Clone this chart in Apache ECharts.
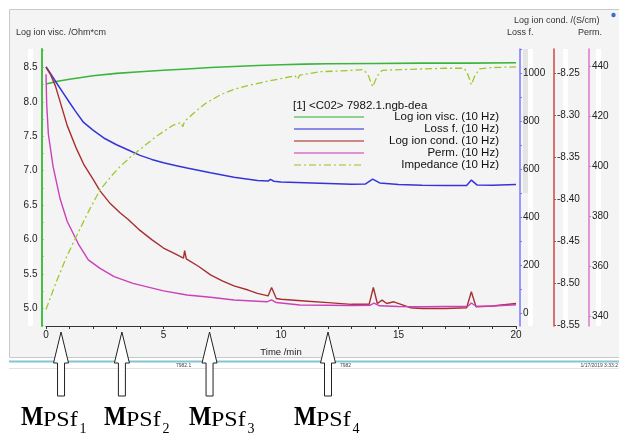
<!DOCTYPE html>
<html><head><meta charset="utf-8">
<script src="https://cdn.jsdelivr.net/npm/echarts@6/dist/echarts.min.js"></script>
<style>html,body{margin:0;padding:0;background:#fff}#c{width:619px;height:441px}</style>
</head><body><div id="c"></div>
<script>
// ---- data (time in min, value) ----
const logIonVisc = [[0,8.26],[0.5,8.30],[1,8.33],[2,8.38],[3,8.415],[4,8.44],[5,8.46],[6,8.48],[7,8.50],[8,8.515],[9,8.53],[10,8.54],[11,8.55],[12,8.555],[14,8.56],[16,8.565],[18,8.565],[20,8.57]];
const lossFactor = [[0,1027],[0.25,990],[0.5,952],[0.75,915],[1,878],[1.25,842],[1.6,795],[2,763],[2.5,728],[3,702],[3.5,680],[4,658],[4.5,641],[5,627],[5.5,616],[6,605],[7,585],[8,567],[9,553],[9.45,551],[9.55,558],[9.7,550],[10,547],[11,544],[12,541],[13,538],[13.6,539],[13.9,559],[14.2,543],[15,537],[16,533],[17,532],[17.9,532],[18.1,555],[18.35,534],[19,533],[20,536]];
const logIonCond = [[0,-8.243],[0.2,-8.252],[0.4,-8.265],[0.9,-8.312],[1.3,-8.340],[1.6,-8.358],[2,-8.376],[2.3,-8.390],[2.7,-8.404],[3.15,-8.416],[3.5,-8.424],[4,-8.437],[4.5,-8.448],[5,-8.458],[5.5,-8.465],[5.85,-8.470],[5.9,-8.461],[5.97,-8.471],[6.5,-8.480],[7,-8.490],[7.5,-8.497],[8,-8.503],[8.6,-8.508],[9,-8.512],[9.45,-8.515],[9.6,-8.505],[9.8,-8.518],[10,-8.519],[11,-8.521],[12,-8.523],[13,-8.525],[13.75,-8.525],[13.93,-8.505],[14.1,-8.524],[14.3,-8.520],[14.5,-8.524],[14.8,-8.522],[15.5,-8.529],[16,-8.530],[17,-8.530],[17.9,-8.529],[18.1,-8.510],[18.3,-8.528],[19,-8.527],[20,-8.524]];
const permittivity = [[0,437],[0.03,425],[0.1,413],[0.3,400],[0.6,387],[0.9,378],[1.4,368.5],[1.8,362.5],[2.3,359.1],[2.9,355.8],[3.7,353.1],[5,350.1],[6,348.4],[7,347.5],[8,346.4],[9.4,345.7],[9.6,346.5],[9.8,345.4],[10.8,344.4],[12,344.3],[13,344.2],[13.8,344.3],[13.95,345.2],[14.2,344.1],[15,343.8],[16,343.7],[17,343.8],[17.95,343.9],[18.1,345.2],[18.3,343.9],[19,344],[20,344.5]];
const impedance = [[0,4.98],[0.4,5.35],[0.88,5.75],[1.3,6.05],[1.8,6.40],[2.3,6.72],[2.8,6.93],[3.15,7.06],[3.6,7.20],[4,7.31],[4.7,7.50],[5.4,7.66],[5.75,7.70],[5.82,7.64],[5.9,7.72],[6.5,7.90],[6.8,7.98],[7.4,8.10],[7.97,8.18],[8.5,8.23],[9.4,8.30],[10,8.34],[10.6,8.38],[10.7,8.33],[10.8,8.39],[11.7,8.44],[12.5,8.45],[13.5,8.47],[13.7,8.40],[13.9,8.22],[14.1,8.38],[14.3,8.46],[15.1,8.47],[16,8.48],[17,8.49],[17.8,8.49],[17.95,8.40],[18.1,8.25],[18.25,8.38],[18.45,8.48],[19,8.50],[20,8.51]];

const seriesNames = ['Log ion visc. (10 Hz)','Loss f. (10 Hz)','Log ion cond. (10 Hz)','Perm. (10 Hz)','Impedance (10 Hz)'];
const viscTicks = [5.0,5.5,6.0,6.5,7.0,7.5,8.0,8.5];
const viscMinorTicks = [4.75,5,5.25,5.5,5.75,6,6.25,6.5,6.75,7,7.25,7.5,7.75,8,8.25,8.5,8.75];
const lossTicks = [0,200,400,600,800,1000];
const lossMinorTicks = [0,100,200,300,400,500,600,700,800,900,1000,1100];
const condTicks = [-8.55,-8.50,-8.45,-8.40,-8.35,-8.30,-8.25];
const permTicks = [340,360,380,400,420,440];
const arrowTimes = [0.64,3.23,6.96,12.0];
const arrowSubs = ['1','2','3','4'];
const labelLefts = [21,104,189,294];

const FONT = 'Liberation Sans, Arial, sans-serif';
const SERIF = 'Liberation Serif, Times New Roman, serif';
const chart = echarts.init(document.getElementById('c'));

function rightAxis(offset, min, max, color, labels, ticks, fmt) {
  return {
    type:'value', position:'right', offset:offset, min:min, max:max,
    axisLine:{show:true, onZero:false, lineStyle:{color:color, width:1.5}},
    axisTick:{show:true, length:2, customValues:ticks, lineStyle:{color:color}},
    axisLabel:{customValues:labels, formatter:fmt, fontSize:10, color:'#222', fontFamily:FONT, margin:3},
    splitLine:{show:false}
  };
}

const bgGraphics = [
  {type:'rect', z:-10, shape:{x:9.5,y:9.5,width:620,height:348}, style:{fill:'#f4f4f4', stroke:'#c9c9c9', lineWidth:1}},
  {type:'rect', z:-9, shape:{x:28,y:49,width:5,height:277}, style:{fill:'#ffffff'}},
  {type:'rect', z:-9, shape:{x:523,y:49,width:5,height:144}, style:{fill:'#e4e4e4'}},
  {type:'rect', z:-9, shape:{x:528,y:49,width:5,height:277}, style:{fill:'#ffffff'}},
  {type:'rect', z:-9, shape:{x:563,y:49,width:5,height:277}, style:{fill:'#ffffff'}},
  {type:'rect', z:-9, shape:{x:596,y:49,width:5,height:277}, style:{fill:'#ffffff'}},
  {type:'line', z:-8, shape:{x1:9,y1:361.5,x2:619,y2:361.5}, style:{stroke:'#86c3d3', lineWidth:2}},
  {type:'line', z:-8, shape:{x1:9,y1:368.5,x2:619,y2:368.5}, style:{stroke:'#e2e2e2', lineWidth:1}},
  {type:'text', style:{x:176,y:365.5,text:'7982.1',fontSize:5,fill:'#444',fontFamily:FONT,verticalAlign:'middle'}},
  {type:'text', style:{x:340,y:365.5,text:'7982',fontSize:5,fill:'#444',fontFamily:FONT,verticalAlign:'middle'}},
  {type:'text', style:{x:618,y:365.5,text:'1/17/2019 3:33:2',fontSize:5,fill:'#444',fontFamily:FONT,verticalAlign:'middle',align:'right'}},
  {type:'text', style:{x:16,y:32.5,text:'Log ion visc. /Ohm*cm',fontSize:9,fill:'#333',fontFamily:FONT,verticalAlign:'middle'}},
  {type:'text', style:{x:514,y:21,text:'Log ion cond. /(S/cm)',fontSize:9,fill:'#333',fontFamily:FONT,verticalAlign:'middle'}},
  {type:'text', style:{x:507,y:32.5,text:'Loss f.',fontSize:9,fill:'#333',fontFamily:FONT,verticalAlign:'middle'}},
  {type:'text', style:{x:578,y:32.5,text:'Perm.',fontSize:9,fill:'#333',fontFamily:FONT,verticalAlign:'middle'}},
  {type:'circle', shape:{cx:613.5,cy:15,r:2.2}, style:{fill:'#3a6fc4'}},
  {type:'text', style:{x:293,y:106,text:'[1] <C02> 7982.1.ngb-dea',fontSize:11.5,fill:'#111',fontFamily:FONT,verticalAlign:'middle'}}
];

const option = {
  backgroundColor:'#ffffff',
  animation:false,
  grid:{left:46, right:103, top:49, bottom:115, containLabel:false},
  legend:{
    orient:'vertical', left:293, top:111, padding:0, itemGap:0,
    itemWidth:70, itemHeight:2, data:seriesNames,
    lineStyle:{opacity:0.55},
    itemStyle:{opacity:0},
    formatter: n => '{a|' + n + '}',
    textStyle:{fontFamily:FONT, fontSize:11.5, lineHeight:11.5, color:'#111',
      rich:{a:{width:130, align:'right', fontSize:11.5, lineHeight:11.5, fontFamily:FONT, color:'#111'}}}
  },
  xAxis:{
    type:'value', min:0, max:20, interval:1,
    name:'Time /min', nameLocation:'middle', nameGap:21,
    nameTextStyle:{fontSize:9.5, color:'#222', fontFamily:FONT},
    axisLine:{onZero:false, lineStyle:{color:'#333', width:1}},
    axisTick:{show:true, length:3, lineStyle:{color:'#333'}},
    axisLabel:{fontSize:10, color:'#222', fontFamily:FONT, margin:4, formatter: v => (v % 5 === 0 ? String(v) : '')},
    splitLine:{show:false}
  },
  yAxis:[
    {type:'value', position:'left', offset:4.5, min:4.74, max:8.77,
      axisLine:{show:true, onZero:false, lineStyle:{color:'#45c045', width:2}},
      axisTick:{show:true, inside:true, length:2, customValues:viscMinorTicks, lineStyle:{color:'#45c045'}},
      axisLabel:{customValues:viscTicks, formatter: v => v.toFixed(1), fontSize:10, color:'#222', fontFamily:FONT, margin:4},
      splitLine:{show:false}},
    rightAxis(4, -53, 1101, '#7878ff', lossTicks, lossMinorTicks, v => String(v)),
    rightAxis(38, -8.5508, -8.2211, '#cc4848', condTicks, condTicks, v => v.toFixed(2)),
    rightAxis(73, 335.99, 447.1, '#dd77cc', permTicks, permTicks, v => String(v)),
    {type:'value', show:false, min:4.74, max:8.77}
  ],
  series:[
    {name:seriesNames[0], type:'line', yAxisIndex:0, data:logIonVisc, symbol:'none', lineStyle:{color:'#3bb53b', width:1.6}, itemStyle:{color:'#3bb53b'}},
    {name:seriesNames[1], type:'line', yAxisIndex:1, data:lossFactor, symbol:'none', lineStyle:{color:'#3434dc', width:1.5}, itemStyle:{color:'#3434dc'}},
    {name:seriesNames[2], type:'line', yAxisIndex:2, data:logIonCond, symbol:'none', lineStyle:{color:'#a82f2f', width:1.4}, itemStyle:{color:'#a82f2f'}},
    {name:seriesNames[3], type:'line', yAxisIndex:3, data:permittivity, symbol:'none', lineStyle:{color:'#cc40b8', width:1.4}, itemStyle:{color:'#cc40b8'}},
    {name:seriesNames[4], type:'line', yAxisIndex:4, data:impedance, symbol:'none', lineStyle:{color:'#9cc92c', width:1.3, type:[7,3,2,3]}, itemStyle:{color:'#9cc92c'}}
  ],
  graphic: bgGraphics
};
chart.setOption(option);

// annotation arrows + MPSf labels
const extra = [];
arrowTimes.forEach((t, i) => {
  const cx = chart.convertToPixel({xAxisIndex:0}, t);
  extra.push({type:'polygon', z:50, shape:{points:[[cx,332],[cx+7.5,363],[cx+3.5,363],[cx+3.5,396],[cx-3.5,396],[cx-3.5,363],[cx-7.5,363]]},
    style:{fill:'#ffffff', stroke:'#222', lineWidth:1}});
  const x0 = labelLefts[i];
  extra.push({type:'text', x:x0, y:418, scaleX:0.85, style:{x:0,y:0,text:'M',font:'bold 28px ' + SERIF,fill:'#000',verticalAlign:'middle'}});
  extra.push({type:'text', x:x0+22, y:421, scaleX:1.2, style:{x:0,y:0,text:'PSf',font:'20px ' + SERIF,fill:'#000',verticalAlign:'middle'}});
  extra.push({type:'text', x:x0+58.5, y:429, style:{x:0,y:0,text:arrowSubs[i],font:'14px ' + SERIF,fill:'#000',verticalAlign:'middle'}});
});
chart.setOption({graphic: bgGraphics.concat(extra)});
</script>
</body></html>
